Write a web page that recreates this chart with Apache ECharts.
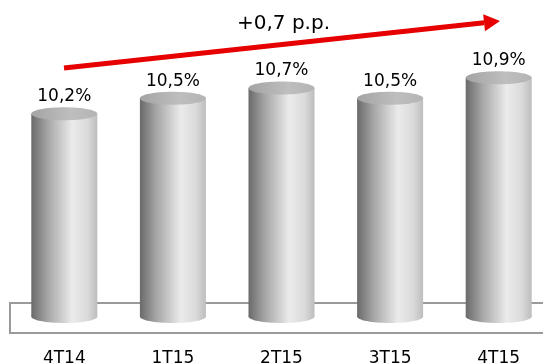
<!DOCTYPE html>
<html>
<head>
<meta charset="utf-8">
<script src="https://cdn.jsdelivr.net/npm/echarts@6/dist/echarts.min.js"></script>
<style>
  html, body { margin: 0; padding: 0; background: #fff; }
  #chart { width: 543px; height: 363px; }
</style>
</head>
<body>
<div id="chart"></div>
<script>
// Quarterly ratio (%)
var categories = ['4T14', '1T15', '2T15', '3T15', '4T15'];
var values = [10.2, 10.5, 10.7, 10.5, 10.9];
var valueLabels = ['10,2%', '10,5%', '10,7%', '10,5%', '10,9%'];
var trendLabel = '+0,7 p.p.';

var AXIS_MIN = 6.25;
var AXIS_MAX = 11.5;
var FONT = '"DejaVu Sans", Verdana, sans-serif';

var chart = echarts.init(document.getElementById('chart'), null, { renderer: 'canvas' });

// Cylinder: shaded body, bottom rim, flat top cap, value label
function renderCylinder(params, api) {
  var i = api.value(0);
  var v = api.value(1);
  var top = api.coord([i, v]);
  var base = api.coord([i, AXIS_MIN]);
  var w = 66;
  var rx = w / 2;
  var ry = 6.5;
  var x0 = top[0] - rx;

  var bodyFill = new echarts.graphic.LinearGradient(0, 0, 1, 0, [
    { offset: 0, color: '#6a6a6a' },
    { offset: 0.25, color: '#a6a6a6' },
    { offset: 0.62, color: '#ebebeb' },
    { offset: 0.85, color: '#dadada' },
    { offset: 1, color: '#bdbdbd' }
  ]);
  var capFill = new echarts.graphic.LinearGradient(0, 0, 1, 0, [
    { offset: 0, color: '#a4a4a4' },
    { offset: 0.6, color: '#bebebe' },
    { offset: 1, color: '#b4b4b4' }
  ]);

  return {
    type: 'group',
    children: [
      {
        type: 'ellipse',
        shape: { cx: base[0], cy: base[1], rx: rx, ry: ry },
        style: { fill: bodyFill }
      },
      {
        type: 'rect',
        shape: { x: x0, y: top[1], width: w, height: base[1] - top[1] },
        style: { fill: bodyFill }
      },
      {
        type: 'ellipse',
        shape: { cx: top[0], cy: top[1], rx: rx, ry: ry },
        style: { fill: capFill }
      },
      {
        type: 'text',
        style: {
          x: top[0],
          y: top[1] - ry - 2,
          text: valueLabels[params.dataIndex],
          fill: '#000',
          font: '17px ' + FONT,
          align: 'center',
          verticalAlign: 'bottom'
        }
      }
    ]
  };
}

// Trend arrow geometry
var arrowStart = [64, 68];
var arrowTip = [500, 21];
var dx = arrowTip[0] - arrowStart[0];
var dy = arrowTip[1] - arrowStart[1];
var len = Math.sqrt(dx * dx + dy * dy);
var ux = dx / len, uy = dy / len;
var nx = -uy, ny = ux;
var headLen = 16, headHalf = 8.5;
var bx = arrowTip[0] - headLen * ux, by = arrowTip[1] - headLen * uy;

chart.setOption({
  animation: false,
  backgroundColor: '#fff',
  grid: { left: 10, width: 543, top: 47, bottom: 46.5, containLabel: false, outerBoundsMode: 'none' },
  xAxis: {
    type: 'category',
    data: categories,
    axisLine: { show: false },
    axisTick: { show: false },
    axisLabel: { color: '#000', fontSize: 17, fontFamily: FONT, margin: 34 }
  },
  yAxis: {
    type: 'value',
    min: AXIS_MIN,
    max: AXIS_MAX,
    show: false,
    splitLine: { show: false }
  },
  graphic: [
    {
      type: 'rect',
      z: 0,
      shape: { x: 10, y: 303, width: 545, height: 30 },
      style: { fill: '#fff', stroke: '#9a9a9a', lineWidth: 2 }
    },
    {
      type: 'line',
      z: 10,
      shape: { x1: arrowStart[0], y1: arrowStart[1], x2: bx, y2: by },
      style: { stroke: '#e60000', lineWidth: 5 }
    },
    {
      type: 'polygon',
      z: 10,
      shape: {
        points: [
          arrowTip,
          [bx + headHalf * nx, by + headHalf * ny],
          [bx - headHalf * nx, by - headHalf * ny]
        ]
      },
      style: { fill: '#e60000' }
    },
    {
      type: 'text',
      z: 10,
      style: {
        x: 237,
        y: 24,
        text: trendLabel,
        fill: '#000',
        font: '20px ' + FONT,
        align: 'left',
        verticalAlign: 'middle'
      }
    }
  ],
  series: [
    {
      type: 'custom',
      z: 2,
      renderItem: renderCylinder,
      data: values.map(function (v, i) { return [i, v]; })
    }
  ]
});
</script>
</body>
</html>
